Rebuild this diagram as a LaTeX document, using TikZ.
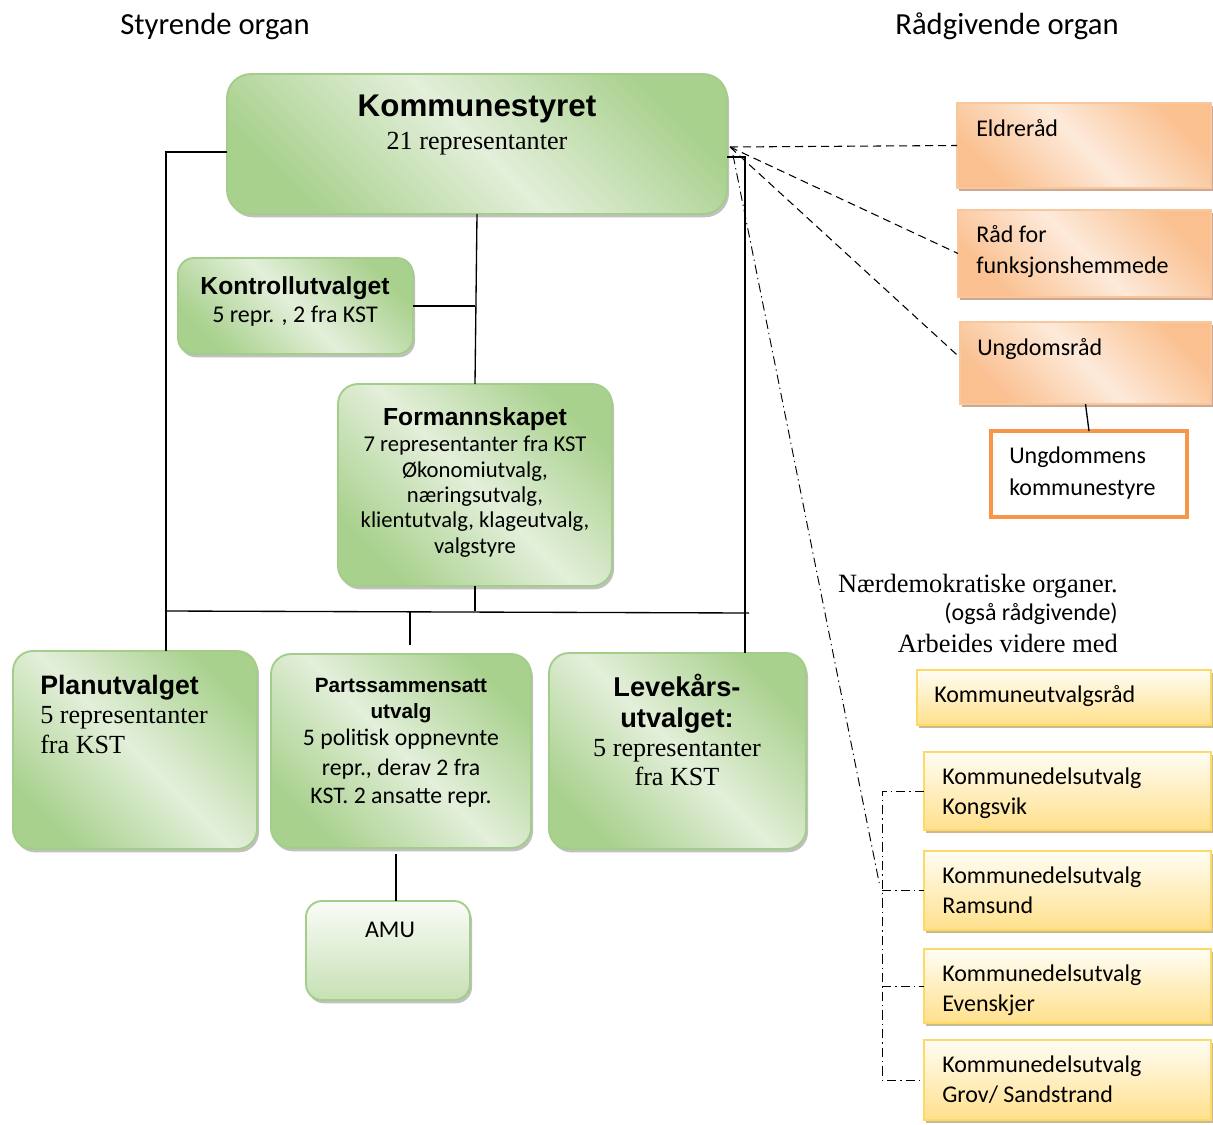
\documentclass[tikz,border=0pt]{standalone}
\usepackage{fontspec}
\setmainfont{Carlito}
\newfontfamily\arialfont{Liberation Sans}
\newfontfamily\timesfont{Liberation Serif}
\usepackage{tikz}
\usetikzlibrary{shadows}

\definecolor{gronnmork}{HTML}{A9D18E}
\definecolor{gronnlys}{HTML}{E3EFDA}
\definecolor{gronnkant}{HTML}{A3CD89}
\definecolor{amutopp}{HTML}{FAFCF8}
\definecolor{amubunn}{HTML}{C6E0B4}
\definecolor{oransjemork}{HTML}{FAC090}
\definecolor{oransjelys}{HTML}{FDEADA}
\definecolor{oransjekant}{HTML}{F9C79E}
\definecolor{oransjeskygge}{HTML}{C9A085}
\definecolor{oransjesterk}{HTML}{F79646}
\definecolor{gulmork}{HTML}{FFE08C}
\definecolor{gullys}{HTML}{FFFDF4}
\definecolor{gulkant}{HTML}{FFD966}
\definecolor{gulskygge}{HTML}{C2B287}

\tikzset{
  boxsize/.style 2 args={minimum width=#1*0.75pt, minimum height=#2*0.75pt},
  boks/.style={inner sep=0pt, outer sep=0pt},
  gronnboks/.style={boks, draw=gronnkant, line width=1.4pt, rounded corners=15pt,
    top color=gronnmork, bottom color=gronnmork, middle color=gronnlys, shading angle=-45,
    drop shadow={shadow xshift=1.5pt, shadow yshift=-2.5pt, fill=black!55, opacity=0.45}},
  oransjeboks/.style={boks, draw=oransjekant, line width=1.4pt,
    top color=oransjemork, bottom color=oransjemork, middle color=oransjelys, shading angle=-45,
    drop shadow={shadow xshift=1.5pt, shadow yshift=-2.5pt, fill=oransjeskygge, opacity=0.9}},
  gulboks/.style={boks, draw=gulkant, line width=2pt, top color=gullys, bottom color=gulmork,
    drop shadow={shadow xshift=1.5pt, shadow yshift=-2.5pt, fill=gulskygge, opacity=0.9}},
  tekst/.style={inner sep=0pt, anchor=base},
  vtekst/.style={inner sep=0pt, anchor=base west},
  htekst/.style={inner sep=0pt, anchor=base east},
  brod/.style={font=\fontsize{17}{20}\selectfont},
  brodstor/.style={font=\fontsize{18}{22}\selectfont},
  times/.style={font=\timesfont\fontsize{19.6}{23}\selectfont},
  fet/.style={font=\arialfont\bfseries\fontsize{#1}{#1}\selectfont},
}

\begin{document}
\begin{tikzpicture}[x=0.75pt, y=-0.75pt,
    linje/.style={black, line width=1pt},
    stiplet/.style={black, line width=0.8pt, dash pattern=on 6pt off 3.75pt},
    strekpunkt/.style={black, line width=0.7pt, dash pattern=on 7pt off 3pt on 1pt off 3pt}]
  \useasboundingbox (0,0) rectangle (1213,1124);

  % overskrifter
  \node [tekst, font=\fontsize{23}{28}\selectfont] (styrende) at (215,35) {Styrende organ};
  \node [tekst, font=\fontsize{23}{28}\selectfont] (radgivende) at (1007,35) {Rådgivende organ};

  % styrende organ
  \node [gronnboks, boxsize={500}{140}, rounded corners=18pt] (kst) at (477,144) {};
  \node [gronnboks, boxsize={235}{96}, rounded corners=12pt] (kontroll) at (295.5,306) {};
  \node [gronnboks, boxsize={274}{202}] (formann) at (475,485) {};
  \node [gronnboks, boxsize={244}{198}] (plan) at (135,750) {};
  \node [gronnboks, boxsize={260}{194}] (parts) at (401,751) {};
  \node [gronnboks, boxsize={257}{196}] (leve) at (677.5,751) {};
  \node [gronnboks, boxsize={164}{99}, rounded corners=12pt,
    top color=amutopp, bottom color=amubunn, shading angle=0] (amu) at (388,950.5) {};

  \node [tekst, fet=23.5] (kstNavn) at (477,117) {Kommunestyret};
  \node [tekst, times] (kstAntall) at (477,149) {21 representanter};

  \node [tekst, fet=18.5] (kontrollNavn) at (295,294) {Kontrollutvalget};
  \node [tekst, brodstor] (kontrollAntall) at (295,322) {5 repr. , 2 fra KST};

  \node [tekst, fet=18.5] (formannNavn) at (475,425) {Formannskapet};
  \node [tekst, brod] (formann1) at (475,451) {7 representanter fra KST};
  \node [tekst, brod] (formann2) at (475,477) {Økonomiutvalg,};
  \node [tekst, brod] (formann3) at (475,502) {næringsutvalg,};
  \node [tekst, brod] (formann4) at (475,527) {klientutvalg, klageutvalg,};
  \node [tekst, brod] (formann5) at (475,553) {valgstyre};

  \node [vtekst, fet=20] (planNavn) at (40,694) {Planutvalget};
  \node [vtekst, times] (plan1) at (40,723) {5 representanter};
  \node [vtekst, times] (plan2) at (40,753) {fra KST};

  \node [tekst, fet=15.5] (partsNavn1) at (401,692) {Partssammensatt};
  \node [tekst, fet=15.5] (partsNavn2) at (401,718) {utvalg};
  \node [tekst, font=\fontsize{17.8}{21}\selectfont] (parts1) at (401,745) {5 politisk oppnevnte};
  \node [tekst, font=\fontsize{17.8}{21}\selectfont] (parts2) at (401,775) {repr., derav 2 fra};
  \node [tekst, font=\fontsize{17.8}{21}\selectfont] (parts3) at (401,803) {KST. 2 ansatte repr.};

  \node [tekst, fet=20.4] (leveNavn1) at (677,696) {Levekårs-};
  \node [tekst, fet=20.4] (leveNavn2) at (677,727) {utvalget:};
  \node [tekst, times] (leve1) at (677,756) {5 representanter};
  \node [tekst, times] (leve2) at (677,785) {fra KST};

  \node [tekst, brodstor] (amuNavn) at (390,937) {AMU};

  % linjer mellom styrende organ
  \coordinate (venstre) at (166,152);
  \coordinate (hoyre) at (745,157);
  \coordinate (bussV) at (166,611);
  \coordinate (bussH) at (749,613);
  \draw [linje] ([yshift=-6pt]kst.west) -- (venstre) -- (plan.north -| venstre);
  \draw [linje] ([yshift=-9.75pt]kst.east) -- (hoyre) -- (hoyre |- leve.north);
  \draw [linje] (kst.south) -- (formann.north);
  \draw [linje] (kontroll.east) -- (kontroll.east -| formann.north);
  \draw [linje] (bussV) -- (bussH);
  \draw [linje] (formann.south) -- (formann.south |- bussV);
  \draw [linje] ([xshift=6.75pt]parts.north |- bussV) -- ([xshift=6.75pt,yshift=6.75pt]parts.north);
  \draw [linje] ([xshift=6pt,yshift=-4.5pt]amu.north |- parts.south) -- ([xshift=6pt]amu.north);

  % raadgivende organ
  \node [oransjeboks, boxsize={254}{85}] (eldre) at (1084,145.5) {};
  \node [oransjeboks, boxsize={253}{87}] (raad) at (1084.5,253.5) {};
  \node [oransjeboks, boxsize={251}{82}] (ungdom) at (1085.5,363) {};
  \node [boks, draw=oransjesterk, line width=3pt, fill=white, boxsize={196}{86}] (ukst) at (1089,474) {};

  \node [vtekst, brodstor] (eldreNavn) at (976,136) {Eldreråd};
  \node [vtekst, brodstor] (raadNavn1) at (976,242) {Råd for};
  \node [vtekst, brodstor] (raadNavn2) at (976,273) {funksjonshemmede};
  \node [vtekst, brodstor] (ungdomNavn) at (977,355) {Ungdomsråd};
  \node [vtekst, brodstor] (ukstNavn1) at (1009,463) {Ungdommens};
  \node [vtekst, brodstor] (ukstNavn2) at (1009,495) {kommunestyre};

  \coordinate (rad) at (730,147);
  \draw [stiplet] (rad) -- (eldre.west);
  \draw [stiplet] (rad) -- (raad.west);
  \draw [stiplet] (rad) -- ([yshift=4pt]ungdom.west);
  \draw [linje] (ungdom.south) -- (ukst.north);

  % naerdemokratiske organer
  \node [htekst, font=\timesfont\fontsize{19.8}{23}\selectfont] (naer1) at (1118,592) {Nærdemokratiske organer.};
  \node [htekst, brodstor] (naer2) at (1118,620) {(også rådgivende)};
  \node [htekst, font=\timesfont\fontsize{19.8}{23}\selectfont] (naer3) at (1118,652) {Arbeides videre med};

  \node [gulboks, boxsize={294}{55}] (kur) at (1064,697.5) {};
  \node [vtekst, brodstor] (kurNavn) at (934,702) {Kommuneutvalgsråd};

  \foreach \topp/\hoyde/\sted [count=\i] in {752/78/Kongsvik, 851/79/Ramsund, 949/74/Evenskjer, 1040/80/{Grov/ Sandstrand}} {
    \node [gulboks, boxsize={287}{\hoyde}] (kdu\i) at (1067.5,{\topp+\hoyde/2}) {};
    \node [vtekst, brodstor] (kduNavn\i) at (942,{\topp+32.5}) {Kommunedelsutvalg};
    \node [vtekst, brodstor] (kduSted\i) at (942,{\topp+62}) {\sted};
  }

  \coordinate (nd) at (733,155);
  \coordinate (brakett) at (882,790);
  \draw [strekpunkt] (nd) -- (880,887);
  \draw [strekpunkt] (kdu1.west) -- (kdu1.west -| brakett) -- (kdu4.west -| brakett) -- (kdu4.west);
  \draw [strekpunkt] (kdu2.west -| brakett) -- (kdu2.west);
  \draw [strekpunkt] (kdu3.west -| brakett) -- (kdu3.west);
\end{tikzpicture}
\end{document}
